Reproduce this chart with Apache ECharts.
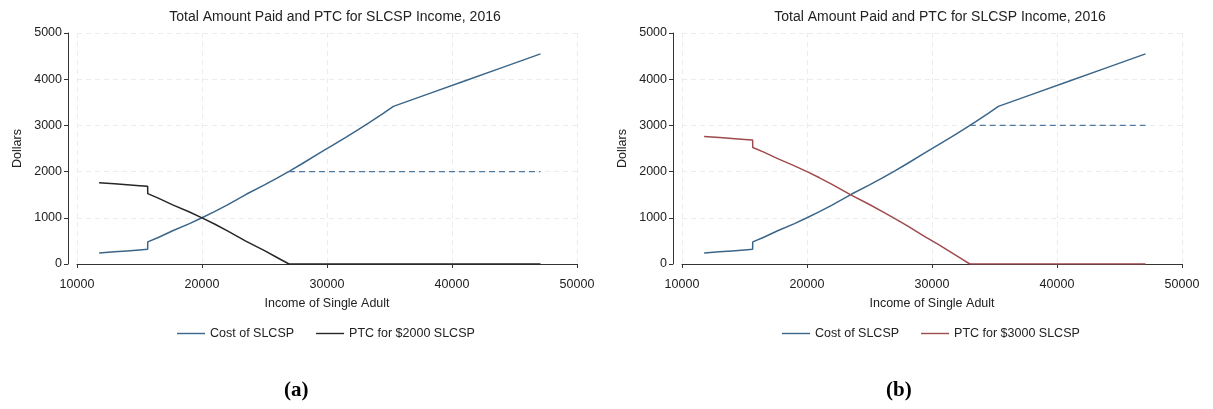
<!DOCTYPE html>
<html>
<head>
<meta charset="utf-8">
<script src="https://cdn.jsdelivr.net/npm/echarts@6/dist/echarts.min.js"></script>
<style>
  html, body { margin: 0; padding: 0; background: #fff; }
  #chart { width: 1213px; height: 409px; }
</style>
</head>
<body>
<div id="chart"></div>
<script>
// 数据
var costIncome = [11770, 13000, 14000, 15000, 15650, 15660, 16500, 17655, 19000, 20000, 21000, 22000, 23540, 25000, 26000, 27000, 28000, 29425, 30500, 31500, 32500, 33500, 34500, 35310, 38000, 41000, 44000, 47080];
var costValue  = [239, 264, 284, 305, 318, 478, 574, 719, 875, 1001, 1134, 1276, 1509, 1712, 1859, 2012, 2170, 2407, 2577, 2741, 2910, 3084, 3262, 3411, 3671, 3961, 4250, 4548];

var ptc2000Income = [11770, 13000, 14000, 15000, 15650, 15660, 16500, 17655, 19000, 20000, 21000, 22000, 23540, 25000, 26000, 26960, 47080];
var ptc2000Value  = [1761, 1736, 1716, 1696, 1682, 1522, 1426, 1281, 1125, 999, 866, 724, 491, 288, 141, 0, 0];

var ptc3000Income = [11770, 13000, 14000, 15000, 15650, 15660, 16500, 17655, 19000, 20000, 21000, 22000, 23540, 25000, 26000, 27000, 28000, 29425, 30500, 31500, 32500, 33020, 47080];
var ptc3000Value  = [2761, 2736, 2716, 2696, 2682, 2522, 2426, 2281, 2125, 1999, 1866, 1724, 1491, 1288, 1141, 988, 830, 593, 423, 259, 90, 0, 0];

var cap2000Income = [26960, 47080];
var cap2000Value  = [2000, 2000];
var cap3000Income = [33020, 47080];
var cap3000Value  = [3000, 3000];

var xTicks = [10000, 20000, 30000, 40000, 50000];
var yTicks = [0, 1000, 2000, 3000, 4000, 5000];

var titleText = 'Total Amount Paid and PTC for SLCSP Income, 2016';

function pairs(xs, ys) {
  return xs.map(function (x, i) { return [x, ys[i]]; });
}

var chart = echarts.init(document.getElementById('chart'));
var font = 'Liberation Sans, Arial, sans-serif';
var blue = '#3b6689', black = '#262626', red = '#9e4a4e', dashBlue = '#5079a0';

function xAxisOpt(gi) {
  return {
    type: 'value', gridIndex: gi,
    min: xTicks[0], max: xTicks[xTicks.length - 1], interval: 10000,
    offset: 8,
    name: 'Income of Single Adult', nameLocation: 'middle', nameGap: 25,
    nameTextStyle: { color: '#222', fontSize: 12.5, fontFamily: font },
    axisLine: { show: true, lineStyle: { color: '#333', width: 1 } },
    axisTick: { show: true, length: 4, lineStyle: { color: '#333' } },
    axisLabel: { color: '#222', fontSize: 12.5, fontFamily: font, margin: 6,
      formatter: function (v) { return String(v); } },
    splitLine: { show: true, lineStyle: { color: '#ececec', type: [5, 4], width: 1 } }
  };
}
function yAxisOpt(gi) {
  return {
    type: 'value', gridIndex: gi,
    min: yTicks[0], max: yTicks[yTicks.length - 1], interval: 1000,
    offset: 9,
    name: 'Dollars', nameLocation: 'middle', nameGap: 44,
    nameTextStyle: { color: '#222', fontSize: 12.5, fontFamily: font },
    axisLine: { show: true, lineStyle: { color: '#333', width: 1 } },
    axisTick: { show: true, length: 4, lineStyle: { color: '#333' } },
    axisLabel: { color: '#222', fontSize: 12.5, fontFamily: font, margin: 6,
      formatter: function (v) { return String(v); } },
    splitLine: { show: true, lineStyle: { color: '#ececec', type: [5, 4], width: 1 } }
  };
}
function lineSeries(name, gi, data, color, dashed) {
  return {
    name: name, type: 'line', xAxisIndex: gi, yAxisIndex: gi,
    data: data, showSymbol: false, symbol: 'none', animation: false,
    lineStyle: { color: color, width: dashed ? 1.3 : 1.5, type: dashed ? [6, 4] : 'solid' },
    itemStyle: { color: color }
  };
}

var option = {
  backgroundColor: '#fff',
  title: [
    { text: titleText, left: 330, top: 5, textAlign: 'center',
      textStyle: { fontSize: 14, fontWeight: 'normal', color: '#222', fontFamily: font } },
    { text: titleText, left: 935, top: 5, textAlign: 'center',
      textStyle: { fontSize: 14, fontWeight: 'normal', color: '#222', fontFamily: font } }
  ],
  grid: [
    { left: 77, top: 33, width: 500, height: 231 },
    { left: 682, top: 33, width: 500, height: 231 }
  ],
  legend: [
    { data: ['Cost of SLCSP', 'PTC for $2000 SLCSP'], left: 172, top: 322, itemWidth: 28, itemHeight: 10, itemGap: 22,
      icon: 'path://M0,0 L28,0 L28,1.4 L0,1.4 Z',
      textStyle: { color: '#222', fontSize: 12.5, fontFamily: font } },
    { data: ['Cost of SLCSP ', 'PTC for $3000 SLCSP'], left: 777, top: 322, itemWidth: 28, itemHeight: 10, itemGap: 22,
      icon: 'path://M0,0 L28,0 L28,1.4 L0,1.4 Z',
      textStyle: { color: '#222', fontSize: 12.5, fontFamily: font },
      formatter: function (n) { return n.trim(); } }
  ],
  xAxis: [xAxisOpt(0), xAxisOpt(1)],
  yAxis: [yAxisOpt(0), yAxisOpt(1)],
  series: [
    lineSeries('Cost of SLCSP', 0, pairs(costIncome, costValue), blue, false),
    lineSeries('PTC for $2000 SLCSP', 0, pairs(ptc2000Income, ptc2000Value), black, false),
    lineSeries('cap2000', 0, pairs(cap2000Income, cap2000Value), dashBlue, true),
    lineSeries('Cost of SLCSP ', 1, pairs(costIncome, costValue), blue, false),
    lineSeries('PTC for $3000 SLCSP', 1, pairs(ptc3000Income, ptc3000Value), red, false),
    lineSeries('cap3000', 1, pairs(cap3000Income, cap3000Value), dashBlue, true)
  ],
  graphic: [
    { type: 'text', left: 284, top: 380,
      style: { text: '(a)', fontSize: 21, fontWeight: 'bold', fontFamily: 'Liberation Serif, Times New Roman, serif', fill: '#000' } },
    { type: 'text', left: 886, top: 380,
      style: { text: '(b)', fontSize: 21, fontWeight: 'bold', fontFamily: 'Liberation Serif, Times New Roman, serif', fill: '#000' } }
  ]
};
chart.setOption(option);
</script>
</body>
</html>
